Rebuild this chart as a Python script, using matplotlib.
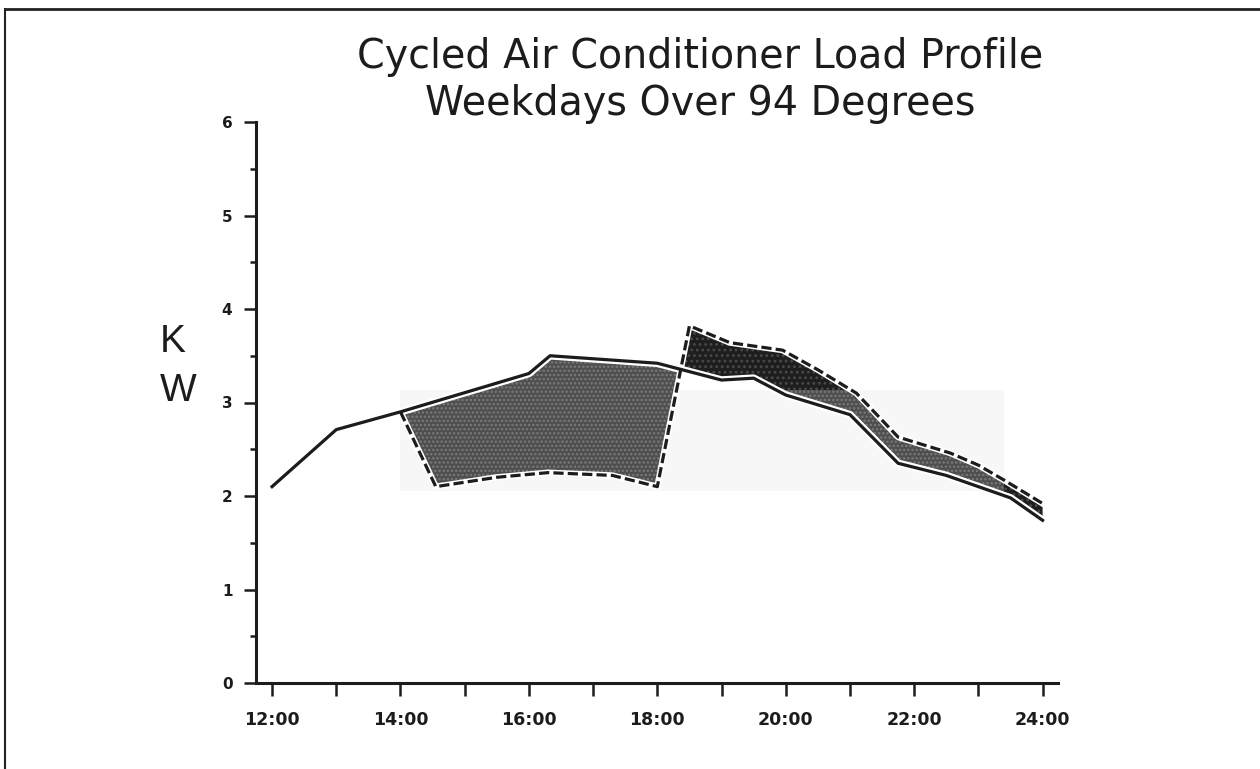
import numpy as np
import matplotlib
matplotlib.use("Agg")
import matplotlib.pyplot as plt
from matplotlib.patches import Rectangle
from matplotlib.lines import Line2D

# ---- data (hours, kW) ----
base_hours = [12, 13, 14, 16, 16.33, 18, 19, 19.5, 20, 21, 21.75, 22.5, 23, 23.5, 24]
base_kw = [2.1, 2.71, 2.9, 3.31, 3.5, 3.42, 3.24, 3.26, 3.08, 2.87, 2.35, 2.22, 2.1, 1.98, 1.74]

cycled_hours = [14.0, 14.55, 15.5, 16.3, 17.3, 18.0, 18.5, 19.13, 19.95, 20.5, 21.1, 21.75, 22.56, 23.0, 23.4, 24.0]
cycled_kw = [2.9, 2.1, 2.2, 2.25, 2.22, 2.1, 3.82, 3.64, 3.56, 3.35, 3.1, 2.63, 2.46, 2.33, 2.17, 1.92]

x_tick_hours = [12, 14, 16, 18, 20, 22, 24]
x_tick_labels = ["12:00", "14:00", "16:00", "18:00", "20:00", "22:00", "24:00"]
y_ticks = [0, 1, 2, 3, 4, 5, 6]

title_lines = ["Cycled Air Conditioner Load Profile", "Weekdays Over 94 Degrees"]

plt.rcParams['font.family'] = ['DejaVu Sans']
plt.rcParams['hatch.linewidth'] = 1.2
INK = "#1c1c1c"

fig = plt.figure(figsize=(12.6, 7.69), dpi=100)
ax = fig.add_axes([256/1260, 1-683/769, (1058-256)/1260, (683-122)/769])
ax.set_xlim(11.75, 24.24)
ax.set_ylim(0, 6)

grid = np.linspace(14.0, 24.0, 4001)
b = np.interp(grid, base_hours, base_kw)
c = np.interp(grid, cycled_hours, cycled_kw)

# faint background box (scan artefact)
ax.add_patch(Rectangle((14.0, 2.05), 9.4, 1.08, facecolor="#f7f7f7", edgecolor="none", zorder=0))

plt.rcParams['hatch.color'] = '#7a7a7a'
ax.fill_between(grid, c, b, where=(b >= c), interpolate=True, facecolor="#4e4e4e",
                linewidth=0, hatch="....", zorder=1)
plt.rcParams['hatch.color'] = '#4a4a4a'
ax.fill_between(grid, b, c, where=(c >= b), interpolate=True, facecolor="#1e1e1e",
                linewidth=0, hatch="...", zorder=1)
plt.rcParams['hatch.color'] = '#7a7a7a'
gray = ax.fill_between(grid, b, c, where=(c >= b), interpolate=True, facecolor="#4e4e4e",
                       linewidth=0, hatch="....", zorder=1.1)
clip = Rectangle((14.0, 2.05), 9.4, 1.08, transform=ax.transData)
gray.set_clip_path(clip)

# lines
ax.plot(base_hours, base_kw, color="white", lw=5.5, zorder=2)
ax.plot(cycled_hours, cycled_kw, color="white", lw=4.5, zorder=2)
ax.plot(base_hours, base_kw, color=INK, lw=2.3, zorder=3)
ax.plot(cycled_hours, cycled_kw, color=INK, lw=2.3, dashes=(3.2, 1.3), zorder=3)

# axes styling
for s in ["top", "right"]:
    ax.spines[s].set_visible(False)
for s in ["left", "bottom"]:
    ax.spines[s].set_linewidth(2.2)
    ax.spines[s].set_color(INK)

ax.set_yticks(y_ticks)
ax.set_yticklabels([str(v) for v in y_ticks])
ax.set_yticks(np.arange(0.5, 6, 1.0), minor=True)
ax.set_xticks(x_tick_hours)
ax.set_xticklabels(x_tick_labels)
ax.set_xticks(np.arange(13, 24, 2), minor=True)

ax.tick_params(axis="y", which="major", direction="out", length=9, width=1.8, pad=8,
               labelsize=11, colors=INK)
ax.tick_params(axis="y", which="minor", direction="out", length=4, width=1.8, colors=INK)
ax.tick_params(axis="x", which="both", direction="out", length=9, width=1.8, pad=11,
               labelsize=12.5, colors=INK)
for lbl in ax.get_xticklabels() + ax.get_yticklabels():
    lbl.set_fontweight("bold")

# KW label
fig.text(160/1260, 1-342/769, "K", fontsize=28, ha="left", va="center", color=INK,
         family="Liberation Sans")
fig.text(160/1260, 1-391/769, "W", fontsize=28, ha="left", va="center", color=INK,
         family="Liberation Sans")

# title
fig.text(700/1260, 1-68/769, title_lines[0], fontsize=28.5, ha="center", va="baseline", color=INK)
fig.text(700/1260, 1-115/769, title_lines[1], fontsize=28.5, ha="center", va="baseline", color=INK)

# page frame
fig.add_artist(Line2D([5/1260, 1.0], [1-9/769, 1-9/769], transform=fig.transFigure, color="#222222", lw=2))
fig.add_artist(Line2D([5/1260, 5/1260], [0, 1-9/769], transform=fig.transFigure, color="#222222", lw=1.5))

fig.savefig("out.png", dpi=100)
